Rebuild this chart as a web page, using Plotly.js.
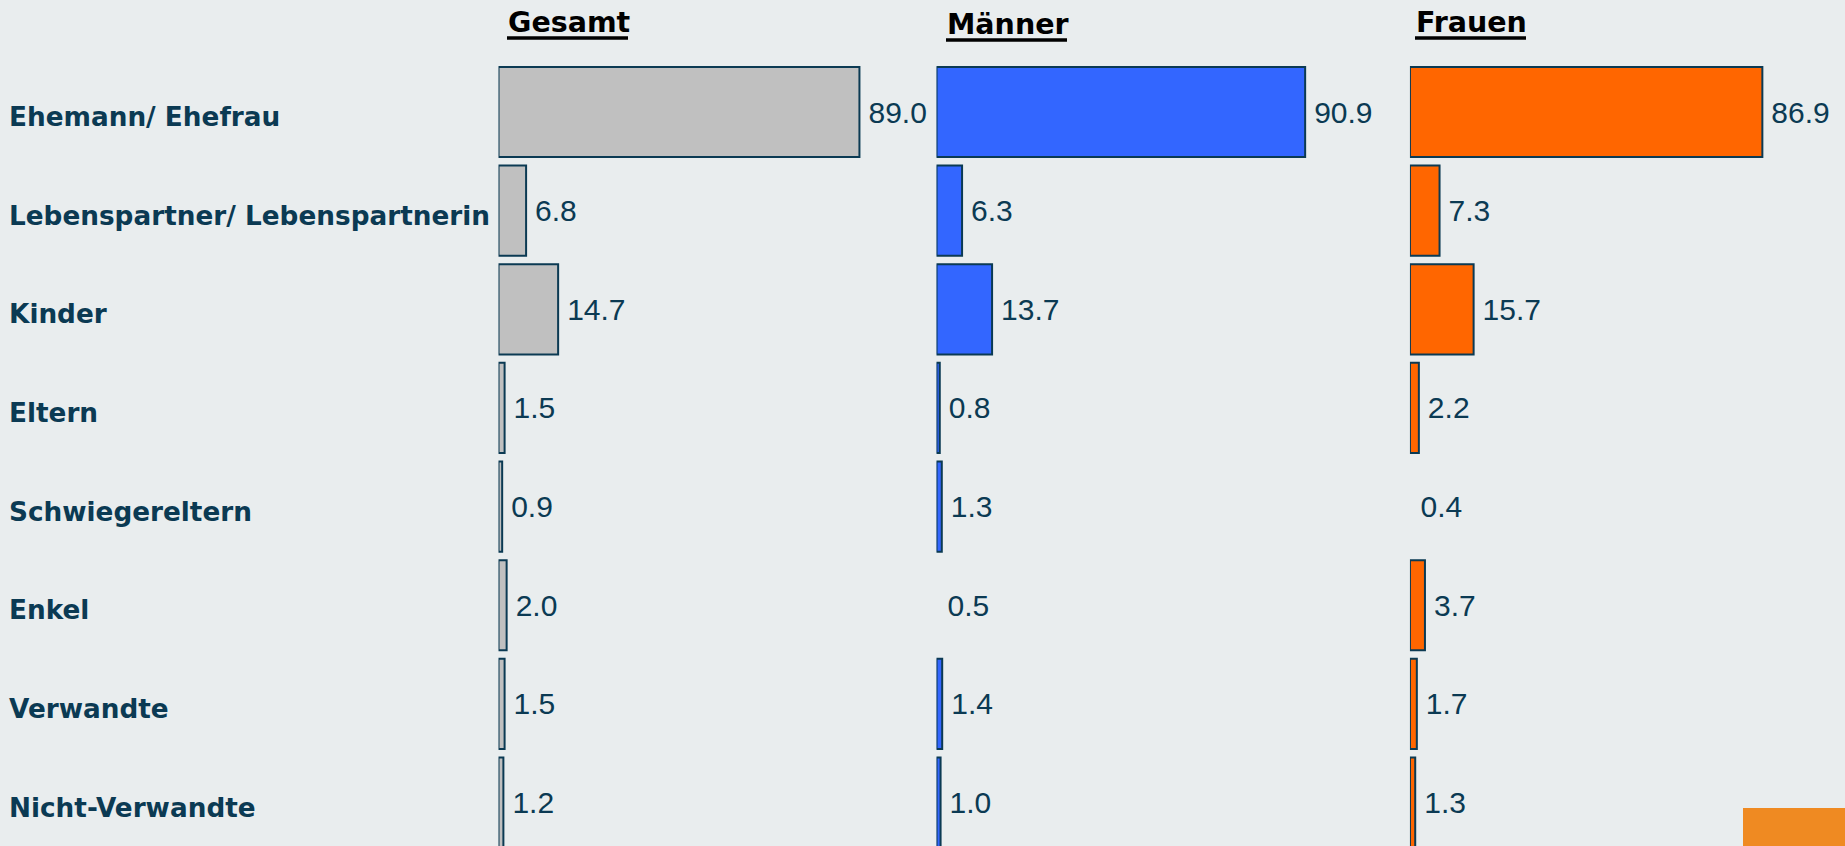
<!DOCTYPE html>
<html>
<head>
<meta charset="utf-8">
<script src="https://cdn.plot.ly/plotly-3.0.1.min.js"></script>
<style>
  html, body { margin: 0; padding: 0; background: #e9edee; }
  #chart { width: 1845px; height: 846px; }
</style>
</head>
<body>
<div id="chart"></div>
<script>
// ---- data ----
const categories = ['Ehemann/ Ehefrau', 'Lebenspartner/ Lebenspartnerin', 'Kinder', 'Eltern',
                    'Schwiegereltern', 'Enkel', 'Verwandte', 'Nicht-Verwandte'];
const gesamt  = [89.0, 6.8, 14.7, 1.5, 0.9, 2.0, 1.5, 1.2];
const maenner = [90.9, 6.3, 13.7, 0.8, 1.3, 0.5, 1.4, 1.0];
const frauen  = [86.9, 7.3, 15.7, 2.2, 0.4, 3.7, 1.7, 1.3];
const panelTitles = ['Gesamt', 'Männer', 'Frauen'];
// bars that are not drawn in the original (value label only)
const hiddenGesamt = [];
const hiddenMaenner = [5];
const hiddenFrauen = [4];

// ---- style ----
const BG = '#e9edee';
const TEAL = '#0b3a53';
const fills = ['#c0c0c0', '#3366ff', '#ff6600'];
const series = [gesamt, maenner, frauen];
const hidden = [hiddenGesamt, hiddenMaenner, hiddenFrauen];
const axisIds = ['x', 'x2', 'x3'];
const domains = [[0.2702, 0.4900], [0.5076, 0.7274], [0.7642, 0.9840]];
const titleX = [506, 945, 1414];
const titleCenterY = [23, 25, 23];          // px from top
const underline = [[507, 628, 38], [946, 1067, 40], [1415, 1526, 38]]; // px

const W = 1845, H = 846, T = 60, B = 0;
const plotH = H - T - B;
const py = px => (H - B - px) / plotH;       // pixel (from top) -> paper y

const traces = series.map((vals, k) => ({
  type: 'bar',
  orientation: 'h',
  x: vals,
  y: categories,
  xaxis: axisIds[k],
  yaxis: 'y',
  marker: {
    color: vals.map((v, i) => hidden[k].includes(i) ? 'rgba(0,0,0,0)' : fills[k]),
    line: {
      color: TEAL,
      width: vals.map((v, i) => hidden[k].includes(i) ? 0 : 2)
    }
  },
  texttemplate: '\u2009%{x:.1f}',
  textposition: 'outside',
  constraintext: 'none',
  cliponaxis: false,
  textfont: { family: 'Liberation Sans, Arial, sans-serif', size: 30, color: TEAL },
  hoverinfo: 'skip',
  showlegend: false
}));

const rowPx = 98.65;
const firstCenter = 112;
const yTop = (T - firstCenter) / rowPx;
const yBottom = yTop + plotH / rowPx;

const annotations = [];
categories.forEach(c => {
  annotations.push({
    text: c, xref: 'paper', yref: 'y', x: 7 / W, y: c,
    xanchor: 'left', yanchor: 'middle', showarrow: false, yshift: -5,
    font: { family: 'DejaVu Sans, Verdana, sans-serif', size: 26.3, color: TEAL, weight: 'bold' }
  });
});
panelTitles.forEach((t, k) => {
  annotations.push({
    text: t, xref: 'paper', yref: 'paper',
    x: titleX[k] / W, y: py(titleCenterY[k]),
    xanchor: 'left', yanchor: 'middle', showarrow: false,
    font: { family: 'DejaVu Sans, Verdana, sans-serif', size: 28.5, color: '#000000', weight: 'bold' }
  });
});

const shapes = underline.map(u => ({
  type: 'line', xref: 'paper', yref: 'paper',
  x0: u[0] / W, x1: u[1] / W, y0: py(u[2]), y1: py(u[2]),
  line: { color: '#000000', width: 3.5 }
}));
shapes.push({
  type: 'rect', xref: 'paper', yref: 'paper',
  x0: 1743 / W, x1: 1, y0: 0, y1: py(808),
  fillcolor: '#ef8a22', line: { width: 0 }, layer: 'above'
});

const hiddenAxis = { showgrid: false, zeroline: false, showticklabels: false, ticks: '', showline: false, fixedrange: true };

const layout = {
  width: W, height: H,
  margin: { l: 0, r: 0, t: T, b: B, pad: 0 },
  paper_bgcolor: BG, plot_bgcolor: 'rgba(0,0,0,0)',
  bargap: 0.086,
  showlegend: false,
  yaxis: Object.assign({}, hiddenAxis, { type: 'category', range: [yBottom, yTop], anchor: 'x' }),
  annotations: annotations,
  shapes: shapes
};
axisIds.forEach((id, k) => {
  const key = id === 'x' ? 'xaxis' : 'xaxis' + id.slice(1);
  layout[key] = Object.assign({}, hiddenAxis, { domain: domains[k], range: [0, 100], anchor: 'y' });
});

Plotly.newPlot('chart', traces, layout, { displayModeBar: false, staticPlot: true });
</script>
</body>
</html>
